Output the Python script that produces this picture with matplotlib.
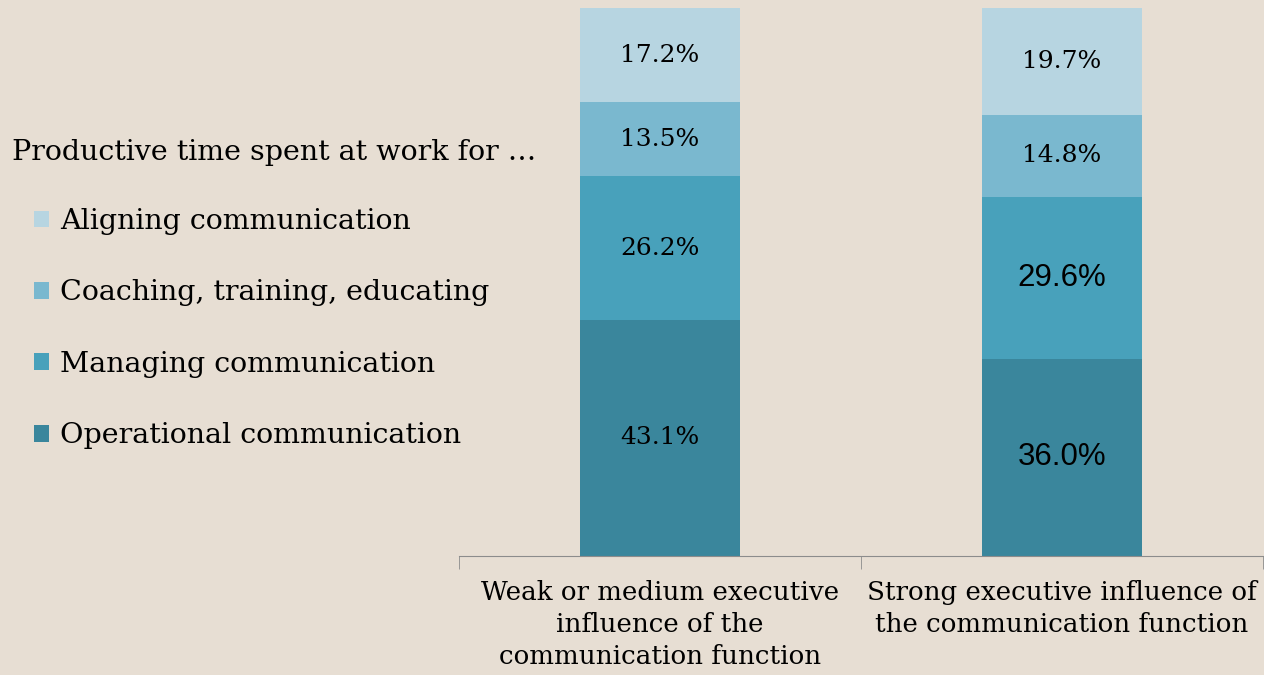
import matplotlib.pyplot as plt
import numpy as np

# data
categories = ["Weak or medium executive\ninfluence of the\ncommunication function",
              "Strong executive influence of\nthe communication function"]
series = ["Operational communication", "Managing communication",
          "Coaching, training, educating", "Aligning communication"]
operational = [43.1, 36.0]
managing = [26.2, 29.6]
coaching = [13.5, 14.8]
aligning = [17.2, 19.7]

colors = ["#3a869c", "#48a1bb", "#7ab8cf", "#b7d5e1"]
bg = "#e7ded3"
serif = "DejaVu Serif"

fig = plt.figure(figsize=(12.64, 6.75), dpi=100, facecolor=bg)
ax = fig.add_axes([459 / 1264, (675 - 556) / 675, 804 / 1264, 548 / 675])
ax.set_facecolor(bg)

x = np.arange(len(categories))
bottom = np.zeros(len(categories))
bars = []
for name, vals, c in zip(series, [operational, managing, coaching, aligning], colors):
    b = ax.bar(x, vals, 0.4, bottom=bottom, color=c, label=name)
    bars.append(b)
    bottom += np.array(vals)

# value labels (the lower two in the right bar use a sans font in the original)
for i, b in enumerate(bars):
    texts = ax.bar_label(b, labels=["%.1f%%" % r.get_height() for r in b],
                         label_type="center", fontsize=18, family=serif)
    if i < 2:
        texts[1].set_family("Liberation Sans")
        texts[1].set_fontsize(22.5)

ax.set_xlim(-0.5, 1.5)
ax.set_ylim(0, 100)
ax.set_yticks([])
for s in ["left", "right", "top"]:
    ax.spines[s].set_visible(False)
ax.spines["bottom"].set_color("#8c8c8c")
ax.set_xticks(x)
ax.set_xticklabels(categories, fontsize=18.8, family=serif, linespacing=1.36)
ax.tick_params(axis="x", which="major", length=0, pad=17)
ax.set_xticks([-0.5, 0.5, 1.5], minor=True)
ax.tick_params(axis="x", which="minor", length=9, color="#8c8c8c")

h, l = ax.get_legend_handles_labels()
fig.text(12 / 1264, 1 - 153 / 675, "Productive time spent at work for …",
         fontsize=20.5, family=serif, va="center")
fig.legend(h[::-1], l[::-1], loc="upper left", bbox_to_anchor=(34 / 1264, 1 - 208 / 675),
           frameon=False, prop={"family": serif, "size": 20.5},
           borderpad=0, borderaxespad=0,
           handlelength=0.53, handleheight=0.53, handletextpad=0.39, labelspacing=1.56)

plt.savefig("out.png", dpi=100, facecolor=bg)
